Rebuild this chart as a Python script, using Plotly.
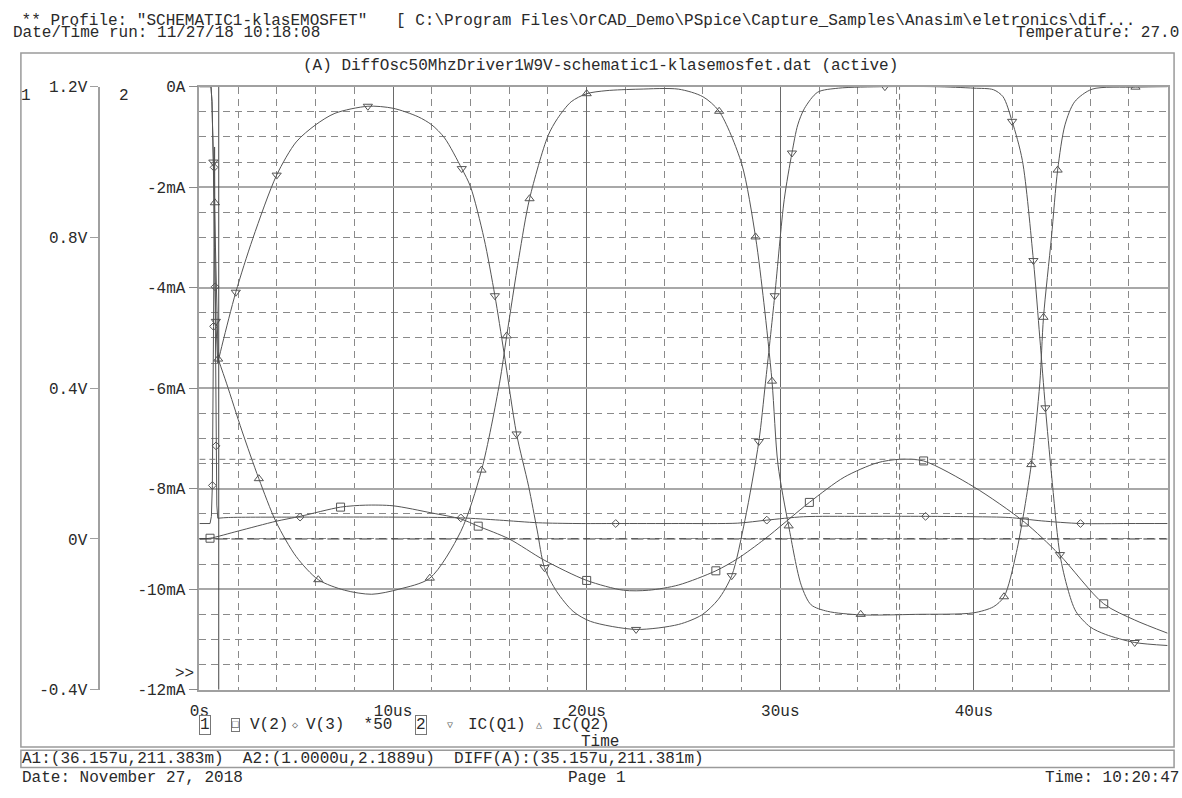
import plotly.graph_objects as go

W, H = 1182, 798

# ---------------- data (time in us) ----------------
t_v2 = [0, 0.55, 2, 3.96, 5.2, 7.29, 8.57, 10, 12, 13.5, 14.4, 16, 17.8, 20, 21.9, 23.2,
        24.75, 26.67, 27.8, 29.2, 31.5, 33.3, 35.0, 36.157, 37.4, 40, 42.6, 44.4, 46.7, 48.3, 50]
v_v2 = [0, 0.002, 0.021, 0.047, 0.060, 0.0845, 0.0897, 0.088, 0.069, 0.053, 0.034, 0.0, -0.056,
        -0.110, -0.136, -0.136, -0.122, -0.0845, -0.052, 0.0, 0.097, 0.164, 0.202, 0.2114, 0.207,
        0.138, 0.045, -0.041, -0.172, -0.215, -0.25]
t_v2_mk = [0.55, 7.29, 14.4, 20.0, 26.67, 31.5, 37.4, 42.6, 46.7]
v_v2_mk = [0.002, 0.0845, 0.034, -0.110, -0.0845, 0.097, 0.207, 0.045, -0.172]

# V(3)*50: start-up transient (drawn straight) and the rest (drawn smooth)
t_v3_start = [0, 0.55, 0.62, 0.67, 0.73, 0.76, 0.785, 0.81, 0.86, 0.9, 0.95]
v_v3_start = [0.041, 0.041, 0.06, 0.142, 0.564, 0.986, 1.04, 0.669, 0.247, 0.09, 0.055]
t_v3 = [0.95, 1.5, 5.2, 10, 13.5, 15.5, 17.5, 19.5, 21.5, 24.75, 27.8, 29.3, 31.2, 34, 37.5, 40,
        41.8, 43.5, 45.5, 48, 50]
v_v3 = [0.055, 0.057, 0.058, 0.058, 0.056, 0.050, 0.043, 0.041, 0.041, 0.041, 0.042, 0.050, 0.059,
        0.060, 0.060, 0.059, 0.057, 0.048, 0.041, 0.041, 0.041]
t_v3_mk = [0.67, 0.73, 0.76, 0.81, 0.86, 5.2, 13.5, 21.5, 29.3, 37.5, 45.5]
v_v3_mk = [0.142, 0.564, 0.986, 0.669, 0.247, 0.058, 0.056, 0.041, 0.050, 0.060, 0.041]

t_q1_start = [0, 0.6, 0.65, 0.72, 0.78, 0.85, 0.95]
i_q1_start = [0, 0, -0.3, -1.5, -3.2, -4.67, -5.5]
t_q1 = [0.95, 1.2, 1.88, 2.76, 3.99, 5, 6, 7, 8.7, 10, 11.3, 12,
        12.66, 13.55, 14, 14.7, 15.26, 15.73, 16.38, 17, 17.44, 17.82, 18.46, 19.3, 20.2, 22.55,
        24.75, 25.95, 26.8, 27.49, 28.17, 28.89, 29.23, 29.71, 30.2, 30.6, 30.9, 31.25, 31.93, 33,
        35.4, 38, 40, 41, 41.5, 41.97, 42.5, 43.07, 43.4, 43.69, 44.0, 44.44, 44.84, 45.26, 46.0,
        46.8, 48.3, 50]
i_q1 = [-5.5, -5.1, -4.09, -3.02, -1.76, -1.1, -0.76, -0.53, -0.39,
        -0.43, -0.6, -0.76, -1.02, -1.63, -1.99, -3.02, -4.16, -5.29, -6.91, -7.95, -8.82, -9.57,
        -10.05, -10.44, -10.64, -10.8, -10.7, -10.51, -10.2, -9.73, -8.63, -7.06, -5.9, -4.16, -2.25,
        -1.32, -0.76, -0.43, -0.11, -0.03, 0, 0, -0.03, -0.06, -0.2, -0.69, -1.47, -3.46, -5.0,
        -6.39, -7.7, -9.31, -9.99, -10.44, -10.75, -10.9, -11.06, -11.12]
t_q1_mk = [0.72, 0.85, 1.88, 3.99, 8.7, 13.55, 15.26, 16.38, 17.82, 22.55, 27.49, 28.89, 29.71,
           30.6, 35.4, 41.97, 43.07, 43.69, 44.44, 48.3]
i_q1_mk = [-1.5, -4.67, -4.09, -1.76, -0.39, -1.63, -4.16, -6.91, -9.57, -10.8, -9.73, -7.06, -4.16,
           -1.32, 0, -0.69, -3.46, -6.39, -9.31, -11.06]

t_q2_start = [0, 0.6, 0.65, 0.72, 0.8, 0.88, 0.97]
i_q2_start = [0, 0, -0.3, -1.3, -2.31, -4.0, -5.42]
t_q2 = [0.97, 1.4, 2.2, 3.07, 3.96, 5, 6.14, 7.5, 8.9, 10.3, 11.9,
        13.5, 14.57, 15.5, 15.87, 16.5, 17.05, 18.0, 18.5, 19.2, 20, 21, 22.7, 24.75, 26.0, 26.84,
        28.0, 28.72, 29.15, 29.57, 29.88, 30.43, 31.08, 31.59, 32.44, 34.15, 37, 39.97, 41, 41.55,
        42.19, 42.96, 43.4, 43.59, 44.0, 44.32, 44.7, 45.2, 46.1, 48.34, 50]
i_q2 = [-5.42, -5.9, -6.85, -7.8, -8.66, -9.35, -9.81, -10.02,
        -10.1, -10.0, -9.78, -8.85, -7.63, -5.9, -4.96, -3.4, -2.23, -0.98, -0.63, -0.3, -0.14,
        -0.08, -0.05, -0.05, -0.2, -0.49, -1.53, -2.99, -4.3, -5.86, -7.52, -8.74, -9.92, -10.31,
        -10.44, -10.51, -10.5, -10.47, -10.35, -10.15, -9.27, -7.52, -5.9, -4.59, -3.0, -1.66,
        -0.76, -0.3, -0.05, -0.01, 0]
t_q2_mk = [0.8, 0.97, 3.07, 6.14, 11.9, 14.57, 15.87, 17.05, 20, 26.84, 28.72, 29.57, 30.43, 34.15,
           41.55, 42.96, 43.59, 44.32, 48.34]
i_q2_mk = [-2.31, -5.42, -7.8, -9.81, -9.78, -7.63, -4.96, -2.23, -0.14, -0.49, -2.99, -5.86, -8.74,
           -10.5, -10.15, -7.52, -4.59, -1.66, -0.01]

x_ticks = [0, 10, 20, 30, 40, 50]
x_labels = ["0s", "10us", "20us", "30us", "40us", "50us"]
i_ticks = [0, -2, -4, -6, -8, -10, -12]
i_labels = ["0A", "-2mA", "-4mA", "-6mA", "-8mA", "-10mA", "-12mA"]
v_ticks = [1.2, 0.8, 0.4, 0, -0.4]
v_labels = ["1.2V", "0.8V", "0.4V", "0V", "-0.4V"]

cursor_a1 = (36.157, 0.211383)
cursor_a2 = (1.0, 2.1889e-6)

# ---------------- styling ----------------
FONT = "Liberation Mono, Courier New, monospace"
TXT = "#2a2a2a"
CURVE = "#555555"
NB = "\u00a0"

def px(x):
    return x / W

def py(y):
    return 1 - y / H

fig = go.Figure()

def add_curve(t, v, axis, shape="spline"):
    line = dict(color=CURVE, width=1, shape=shape)
    if shape == "spline":
        line["smoothing"] = 0.8
    fig.add_trace(go.Scatter(x=t, y=v, yaxis=axis, mode="lines", line=line,
                             hoverinfo="skip", showlegend=False))

def add_marks(t, v, axis, sym, size=7):
    fig.add_trace(go.Scatter(x=t, y=v, yaxis=axis, mode="markers",
                             marker=dict(symbol=sym, size=size, color=CURVE,
                                         line=dict(color=CURVE, width=1)),
                             hoverinfo="skip", showlegend=False))

add_curve(t_v2, v_v2, "y2")
add_curve(t_v3_start, v_v3_start, "y2", "linear")
add_curve(t_v3, v_v3, "y2")
add_curve(t_q1_start, i_q1_start, "y", "linear")
add_curve(t_q1, i_q1, "y")
add_curve(t_q2_start, i_q2_start, "y", "linear")
add_curve(t_q2, i_q2, "y")
add_marks(t_v2_mk, v_v2_mk, "y2", "square-open", 8)
add_marks(t_v3_mk, v_v3_mk, "y2", "diamond-open", 6)
add_marks(t_q1_mk, i_q1_mk, "y", "triangle-down-open", 8)
add_marks(t_q2_mk, i_q2_mk, "y", "triangle-up-open", 8)

x0, x1 = 191, 1167.5
y_top, y_bot = 81.5, 698.5

fig.update_layout(
    width=W, height=H, autosize=False,
    margin=dict(l=0, r=0, t=0, b=0),
    paper_bgcolor="white", plot_bgcolor="white",
    font=dict(family=FONT, size=16, color=TXT),
    xaxis=dict(domain=[px(x0), px(x1)], range=[0, 50], tickvals=x_ticks, ticktext=x_labels,
               showgrid=True, gridcolor="#6a6a6a", gridwidth=1,
               minor=dict(dtick=2, tick0=0, showgrid=True, gridcolor="#8a8a8a",
                          griddash="7px,5px", gridwidth=1),
               showline=True, linecolor="#a0a0a0", linewidth=1.5, mirror=True,
               zeroline=False, ticks="outside", ticklen=5, tickcolor="rgba(0,0,0,0)",
               tickfont=dict(family=FONT, size=16, color=TXT), anchor="y"),
    yaxis=dict(domain=[py(y_bot), py(y_top)], range=[-12, 0], tickvals=i_ticks, ticktext=i_labels,
               showgrid=True, gridcolor="#a8a8a8", gridwidth=2,
               minor=dict(dtick=0.5, tick0=0, showgrid=True, gridcolor="#8a8a8a",
                          griddash="7px,5px", gridwidth=1),
               showline=True, linecolor="#a0a0a0", linewidth=1.5, mirror=True,
               zeroline=False, ticks="outside", ticklen=9, tickcolor="#8a8a8a",
               tickfont=dict(family=FONT, size=16, color=TXT), anchor="x"),
    yaxis2=dict(overlaying="y", anchor="free", position=px(90), side="left",
                range=[-0.4, 1.2], tickvals=v_ticks, ticktext=v_labels, showgrid=False,
                zeroline=False, showline=True, linecolor="#a0a0a0", linewidth=1.5,
                ticks="outside", ticklen=8, tickcolor="#a0a0a0",
                tickfont=dict(family=FONT, size=16, color=TXT)),
)

shapes = []
# cursor lines
shapes.append(dict(type="line", xref="x", yref="y", x0=cursor_a1[0], x1=cursor_a1[0], y0=-12, y1=0,
                   line=dict(color="#777", width=1, dash="6px,4px")))
shapes.append(dict(type="line", xref="x", yref="y2", x0=0, x1=50, y0=cursor_a1[1], y1=cursor_a1[1],
                   line=dict(color="#777", width=1, dash="6px,4px")))
shapes.append(dict(type="line", xref="x", yref="y", x0=cursor_a2[0], x1=cursor_a2[0], y0=-12, y1=0,
                   line=dict(color="#444", width=1)))
shapes.append(dict(type="line", xref="x", yref="y2", x0=0, x1=50, y0=cursor_a2[1], y1=cursor_a2[1],
                   line=dict(color="#333", width=1, dash="12px,4px")))
# page frames
frame = dict(color="#9a9a9a", width=1.5)
shapes.append(dict(type="rect", xref="paper", yref="paper", x0=px(11), x1=px(1174),
                   y0=py(757), y1=py(47), line=frame))
shapes.append(dict(type="rect", xref="paper", yref="paper", x0=px(11), x1=px(1174),
                   y0=py(778), y1=py(760.5), line=frame))
fig.update_layout(shapes=shapes)

ann = []

def text(x, y, s, anchor="left", size=16, **kw):
    ann.append(dict(x=px(x), y=py(y), xref="paper", yref="paper", text=s, showarrow=False,
                    xanchor=anchor, yanchor="middle", font=dict(family=FONT, size=size, color=TXT),
                    **kw))

text(0, 14, NB + "** Profile: \"SCHEMATIC1-klasEMOSFET\"" + NB * 3 +
     "[ C:\\Program Files\\OrCAD_Demo\\PSpice\\Capture_Samples\\Anasim\\eletronics\\dif...")
text(1, 27, "Date/Time run: 11/27/18 10:18:08")
text(1181, 27, "Temperature: 27.0", anchor="right")
text(596, 60, "(A) DiffOsc50MhzDriver1W9V-schematic1-klasemosfet.dat (active)", anchor="center")
text(16, 91, "1", anchor="center")
text(115, 91, "2", anchor="center")
text(176, 682, "&gt;&gt;", anchor="center")

# legend row
LY = 735
box = dict(bordercolor="#777", borderwidth=1, borderpad=0)
text(197, LY, "1", anchor="center", **box)
text(227, LY, "<span style='font-size:11px'>\u25a1</span>", anchor="center", **box)
text(240, LY, "V(2)")
text(287, LY, "<span style='font-size:10px;color:#666'>\u25c7</span>", anchor="center")
text(297, LY, "V(3)" + NB * 2 + "*50")
text(415, LY, "2", anchor="center", **box)
text(444, LY, "<span style='font-size:10px;color:#666'>\u25bd</span>", anchor="center")
text(460, LY, "IC(Q1)")
text(534, LY, "<span style='font-size:10px;color:#666'>\u25b3</span>", anchor="center")
text(545, LY, "IC(Q2)")
text(595, 752, "Time", anchor="center")

text(10, 769, "A1:(36.157u,211.383m)" + NB * 2 + "A2:(1.0000u,2.1889u)" + NB * 2 +
     "DIFF(A):(35.157u,211.381m)")
text(10, 789, "Date: November 27, 2018")
text(592, 789, "Page 1", anchor="center")
text(1181, 789, "Time: 10:20:47", anchor="right")

fig.update_layout(annotations=ann)

fig.write_html(
    "out.html",
    config={"displayModeBar": False, "responsive": False},
    default_width="1182px", default_height="798px",
    post_script="document.body.style.margin='0';document.body.style.overflow='hidden';",
)
